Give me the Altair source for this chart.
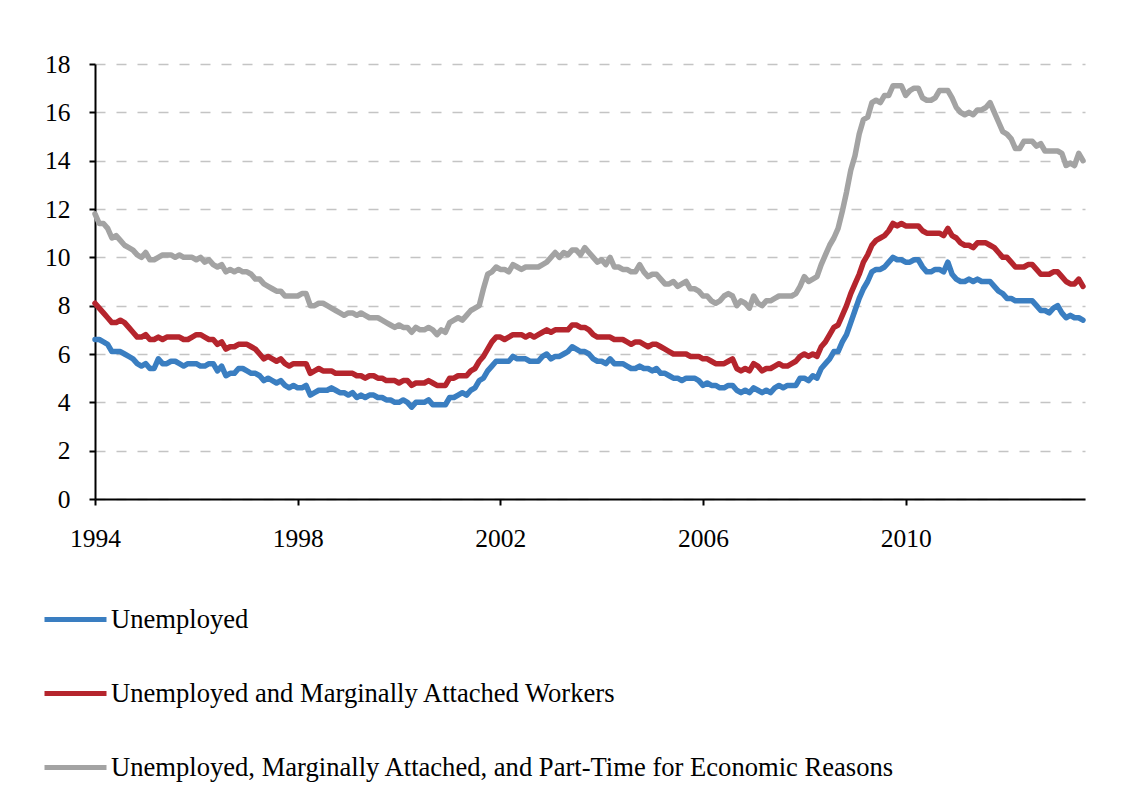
import altair as alt
import pandas as pd

# Monthly rates (percent), January 1994 through July 2013
start_year = 1994
n_months = 235

unemployed = [
    6.6, 6.6, 6.5, 6.4, 6.1, 6.1, 6.1, 6.0, 5.9, 5.8, 5.6, 5.5,   # 1994
    5.6, 5.4, 5.4, 5.8, 5.6, 5.6, 5.7, 5.7, 5.6, 5.5, 5.6, 5.6,   # 1995
    5.6, 5.5, 5.5, 5.6, 5.6, 5.3, 5.5, 5.1, 5.2, 5.2, 5.4, 5.4,   # 1996
    5.3, 5.2, 5.2, 5.1, 4.9, 5.0, 4.9, 4.8, 4.9, 4.7, 4.6, 4.7,   # 1997
    4.6, 4.6, 4.7, 4.3, 4.4, 4.5, 4.5, 4.5, 4.6, 4.5, 4.4, 4.4,   # 1998
    4.3, 4.4, 4.2, 4.3, 4.2, 4.3, 4.3, 4.2, 4.2, 4.1, 4.1, 4.0,   # 1999
    4.0, 4.1, 4.0, 3.8, 4.0, 4.0, 4.0, 4.1, 3.9, 3.9, 3.9, 3.9,   # 2000
    4.2, 4.2, 4.3, 4.4, 4.3, 4.5, 4.6, 4.9, 5.0, 5.3, 5.5, 5.7,   # 2001
    5.7, 5.7, 5.7, 5.9, 5.8, 5.8, 5.8, 5.7, 5.7, 5.7, 5.9, 6.0,   # 2002
    5.8, 5.9, 5.9, 6.0, 6.1, 6.3, 6.2, 6.1, 6.1, 6.0, 5.8, 5.7,   # 2003
    5.7, 5.6, 5.8, 5.6, 5.6, 5.6, 5.5, 5.4, 5.4, 5.5, 5.4, 5.4,   # 2004
    5.3, 5.4, 5.2, 5.2, 5.1, 5.0, 5.0, 4.9, 5.0, 5.0, 5.0, 4.9,   # 2005
    4.7, 4.8, 4.7, 4.7, 4.6, 4.6, 4.7, 4.7, 4.5, 4.4, 4.5, 4.4,   # 2006
    4.6, 4.5, 4.4, 4.5, 4.4, 4.6, 4.7, 4.6, 4.7, 4.7, 4.7, 5.0,   # 2007
    5.0, 4.9, 5.1, 5.0, 5.4, 5.6, 5.8, 6.1, 6.1, 6.5, 6.8, 7.3,   # 2008
    7.8, 8.3, 8.7, 9.0, 9.4, 9.5, 9.5, 9.6, 9.8, 10.0, 9.9, 9.9,  # 2009
    9.8, 9.8, 9.9, 9.9, 9.6, 9.4, 9.4, 9.5, 9.5, 9.4, 9.8, 9.3,   # 2010
    9.1, 9.0, 9.0, 9.1, 9.0, 9.1, 9.0, 9.0, 9.0, 8.8, 8.6, 8.5,   # 2011
    8.3, 8.3, 8.2, 8.2, 8.2, 8.2, 8.2, 8.0, 7.8, 7.8, 7.7, 7.9,   # 2012
    8.0, 7.7, 7.5, 7.6, 7.5, 7.5, 7.4,                            # 2013
]

marginally_attached = [
    8.1, 7.9, 7.7, 7.5, 7.3, 7.3, 7.4, 7.3, 7.1, 6.9, 6.7, 6.7,   # 1994
    6.8, 6.6, 6.6, 6.7, 6.6, 6.7, 6.7, 6.7, 6.7, 6.6, 6.6, 6.7,   # 1995
    6.8, 6.8, 6.7, 6.6, 6.6, 6.4, 6.5, 6.2, 6.3, 6.3, 6.4, 6.4,   # 1996
    6.4, 6.3, 6.2, 6.0, 5.8, 5.9, 5.8, 5.7, 5.8, 5.6, 5.5, 5.6,   # 1997
    5.6, 5.6, 5.6, 5.2, 5.3, 5.4, 5.3, 5.3, 5.3, 5.2, 5.2, 5.2,   # 1998
    5.2, 5.2, 5.1, 5.1, 5.0, 5.1, 5.1, 5.0, 5.0, 4.9, 4.9, 4.9,   # 1999
    4.8, 4.9, 4.9, 4.7, 4.8, 4.8, 4.8, 4.9, 4.8, 4.7, 4.7, 4.7,   # 2000
    5.0, 5.0, 5.1, 5.1, 5.1, 5.3, 5.4, 5.7, 5.9, 6.2, 6.5, 6.7,   # 2001
    6.7, 6.6, 6.7, 6.8, 6.8, 6.8, 6.7, 6.8, 6.7, 6.8, 6.9, 7.0,   # 2002
    6.9, 7.0, 7.0, 7.0, 7.0, 7.2, 7.2, 7.1, 7.1, 7.0, 6.8, 6.7,   # 2003
    6.7, 6.7, 6.7, 6.6, 6.6, 6.6, 6.5, 6.4, 6.5, 6.5, 6.4, 6.3,   # 2004
    6.4, 6.4, 6.3, 6.2, 6.1, 6.0, 6.0, 6.0, 6.0, 5.9, 5.9, 5.9,   # 2005
    5.8, 5.8, 5.7, 5.6, 5.6, 5.6, 5.7, 5.8, 5.4, 5.3, 5.4, 5.3,   # 2006
    5.6, 5.5, 5.3, 5.4, 5.4, 5.5, 5.6, 5.5, 5.5, 5.6, 5.7, 5.9,   # 2007
    6.0, 5.9, 6.0, 5.9, 6.3, 6.5, 6.8, 7.1, 7.2, 7.6, 8.0, 8.5,   # 2008
    8.9, 9.3, 9.8, 10.1, 10.5, 10.7, 10.8, 10.9, 11.1, 11.4, 11.3, 11.4,  # 2009
    11.3, 11.3, 11.3, 11.3, 11.1, 11.0, 11.0, 11.0, 11.0, 10.9, 11.2, 10.9,  # 2010
    10.8, 10.6, 10.5, 10.5, 10.4, 10.6, 10.6, 10.6, 10.5, 10.4, 10.2, 10.0,  # 2011
    10.0, 9.8, 9.6, 9.6, 9.6, 9.7, 9.7, 9.5, 9.3, 9.3, 9.3, 9.4,  # 2012
    9.4, 9.2, 9.0, 8.9, 8.9, 9.1, 8.8,                            # 2013
]

part_time = [
    11.8, 11.4, 11.4, 11.2, 10.8, 10.9, 10.7, 10.5, 10.4, 10.3, 10.1, 10.0,  # 1994
    10.2, 9.9, 9.9, 10.0, 10.1, 10.1, 10.1, 10.0, 10.1, 10.0, 10.0, 10.0,   # 1995
    9.9, 10.0, 9.8, 9.9, 9.7, 9.6, 9.7, 9.4, 9.5, 9.4, 9.5, 9.4,    # 1996
    9.4, 9.3, 9.1, 9.1, 8.9, 8.8, 8.7, 8.6, 8.6, 8.4, 8.4, 8.4,     # 1997
    8.4, 8.5, 8.5, 8.0, 8.0, 8.1, 8.1, 8.0, 7.9, 7.8, 7.7, 7.6,     # 1998
    7.7, 7.7, 7.6, 7.7, 7.6, 7.5, 7.5, 7.5, 7.4, 7.3, 7.2, 7.1,     # 1999
    7.2, 7.1, 7.1, 6.9, 7.1, 7.0, 7.0, 7.1, 7.0, 6.8, 7.0, 6.9,     # 2000
    7.3, 7.4, 7.5, 7.4, 7.6, 7.8, 7.9, 8.0, 8.7, 9.3, 9.4, 9.6,     # 2001
    9.5, 9.5, 9.4, 9.7, 9.6, 9.5, 9.6, 9.6, 9.6, 9.6, 9.7, 9.8,     # 2002
    10.0, 10.2, 10.0, 10.2, 10.1, 10.3, 10.3, 10.1, 10.4, 10.2, 10.0, 9.8,  # 2003
    9.9, 9.7, 10.0, 9.6, 9.6, 9.5, 9.5, 9.4, 9.4, 9.7, 9.4, 9.2,    # 2004
    9.3, 9.3, 9.1, 8.9, 8.9, 9.0, 8.8, 8.9, 9.0, 8.7, 8.7, 8.6,     # 2005
    8.4, 8.4, 8.2, 8.1, 8.2, 8.4, 8.5, 8.4, 8.0, 8.2, 8.1, 7.9,     # 2006
    8.4, 8.1, 8.0, 8.2, 8.2, 8.3, 8.4, 8.4, 8.4, 8.4, 8.5, 8.8,     # 2007
    9.2, 9.0, 9.1, 9.2, 9.7, 10.1, 10.5, 10.8, 11.2, 11.9, 12.7, 13.6,  # 2008
    14.2, 15.1, 15.7, 15.8, 16.4, 16.5, 16.4, 16.7, 16.7, 17.1, 17.1, 17.1,  # 2009
    16.7, 16.9, 17.0, 17.0, 16.6, 16.5, 16.5, 16.6, 16.9, 16.9, 16.9, 16.6,  # 2010
    16.2, 16.0, 15.9, 16.0, 15.9, 16.1, 16.1, 16.2, 16.4, 16.0, 15.6, 15.2,  # 2011
    15.1, 14.9, 14.5, 14.5, 14.8, 14.8, 14.8, 14.6, 14.7, 14.4, 14.4, 14.4,  # 2012
    14.4, 14.3, 13.8, 13.9, 13.8, 14.3, 14.0,                       # 2013
]

series_names = [
    "Unemployed",
    "Unemployed and Marginally Attached Workers",
    "Unemployed, Marginally Attached, and Part-Time for Economic Reasons",
]
series_colors = ["#3A7EC1", "#B5252D", "#A3A3A3"]
year_ticks = [1994, 1998, 2002, 2006, 2010]
rate_ticks = [0, 2, 4, 6, 8, 10, 12, 14, 16, 18]

# decimal-year position of each month
t = [start_year + i / 12 for i in range(n_months)]

frames = []
for name, vals in zip(series_names, [unemployed, marginally_attached, part_time]):
    frames.append(pd.DataFrame({"t": t, "rate": vals, "series": name}))
df = pd.concat(frames, ignore_index=True)

FONT = "Liberation Serif"

chart = (
    alt.Chart(df)
    .mark_line(strokeWidth=5.5, strokeJoin="round", strokeCap="round")
    .encode(
        x=alt.X(
            "t:Q",
            scale=alt.Scale(domain=[1994, 2013.54], nice=False, zero=False),
            axis=alt.Axis(
                values=year_ticks,
                format="d",
                title=None,
                grid=False,
                domainColor="black",
                domainWidth=2,
                tickColor="black",
                tickWidth=2,
                tickSize=6,
                labelPadding=21,
                labelFlush=False,
                labelFont=FONT,
                labelFontSize=25.5,
                labelColor="black",
            ),
        ),
        y=alt.Y(
            "rate:Q",
            scale=alt.Scale(domain=[0, 18], nice=False),
            axis=alt.Axis(
                values=rate_ticks,
                title=None,
                grid=True,
                gridColor="#C4C4C4",
                gridWidth=1.5,
                gridDash=[10, 11],
                domainColor="black",
                domainWidth=2,
                tickColor="black",
                tickWidth=2,
                tickSize=6,
                labelPadding=19,
                labelFont=FONT,
                labelFontSize=25.5,
                labelColor="black",
            ),
        ),
        color=alt.Color(
            "series:N",
            scale=alt.Scale(domain=series_names, range=series_colors),
            legend=alt.Legend(
                title=None,
                orient="none",
                legendX=-53,
                legendY=522,
                direction="vertical",
                symbolType="stroke",
                symbolSize=3844,
                symbolStrokeWidth=5,
                labelFont=FONT,
                labelFontSize=26.6,
                labelColor="black",
                labelLimit=1200,
                labelOffset=2,
                rowPadding=26,
                padding=0,
            ),
        ),
    )
    .properties(
        width=990,
        height=435,
        autosize=alt.AutoSizeParams(type="none"),
        padding={"left": 95, "top": 64, "right": 43, "bottom": 290},
        background="white",
    )
    .configure_view(strokeWidth=0)
)

chart.save("out.html", embed_options={"renderer": "svg", "actions": False})
